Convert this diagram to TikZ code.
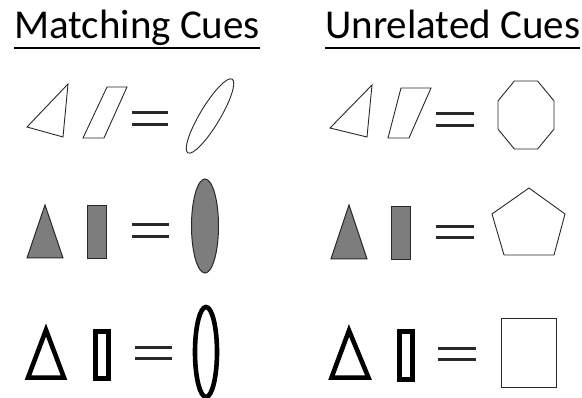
\documentclass[tikz,border=0pt]{standalone}
\usepackage{fontspec}
\setmainfont{Carlito}
\usepackage{tikz}
\usetikzlibrary{calc}
\definecolor{cuegray}{RGB}{125,125,125}
\definecolor{cuedark}{RGB}{40,40,40}

\tikzset{
  heading/.style={inner sep=0pt,anchor=base west,font=\fontsize{41}{45}\selectfont},
  uline/.style={line width=2.5pt},
  thinshape/.style={draw=cuedark,line width=0.9pt,line join=miter},
  grayshape/.style={draw=cuedark,fill=cuegray,line width=1pt},
  boldshape/.style={draw=black,line width=4.6pt,line join=miter},
  eqbar/.style={draw=cuedark,line width=3pt}
}

\begin{document}
\begin{tikzpicture}[x=1pt,y=-1pt]
    \useasboundingbox (0,0) rectangle (582,398);

    % Headings
    \node[heading] (match) at (14,39) {Matching Cues};
    \node[heading] (unrel) at (325,39) {Unrelated Cues};
    \draw[uline] ([yshift=-9pt]match.base west) -- ([yshift=-9pt]match.base east);
    \draw[uline] ([yshift=-9pt]unrel.base west) -- ([yshift=-9pt]unrel.base east);

    % Row 1: outline cues
    \draw[thinshape] (27,127) -- (68,84) -- (63,137) -- cycle;
    \draw[thinshape] (107,87) -- (127,87) -- (104,138) -- (83,138) -- cycle;
    \draw[eqbar] (132,113) -- (168,113);
    \draw[eqbar] (132,125) -- (168,125);
    \draw[thinshape,rotate around={59:(210,116)}] (210,116) ellipse (43 and 10);

    \draw[thinshape] (330,128) -- (372,85) -- (367,137) -- cycle;
    \draw[thinshape] (401,88) -- (431,88) -- (409,138) -- (388,138) -- cycle;
    \draw[eqbar] (436,114) -- (474,114);
    \draw[eqbar] (436,126) -- (474,126);
    \draw[thinshape] (514.4,81) -- (537.6,81) -- (554,100.9) -- (554,129.1)
        -- (537.6,149) -- (514.4,149) -- (498,129.1) -- (498,100.9) -- cycle;

    % Row 2: gray cues
    \draw[grayshape] (45,205) -- (63,258) -- (27,258) -- cycle;
    \draw[grayshape] (87,206) rectangle (106,259);
    \draw[eqbar] (132,225) -- (169,225);
    \draw[eqbar] (132,237) -- (169,237);
    \draw[grayshape] (205,226) ellipse (13.5 and 47);

    \draw[grayshape] (349,205) -- (367,259) -- (331,259) -- cycle;
    \draw[grayshape] (391,207) rectangle (410,260);
    \draw[eqbar] (436,227) -- (474,227);
    \draw[eqbar] (436,238) -- (474,238);
    \draw[thinshape] (529,188) -- (565,214) -- (554,255) -- (504,255) -- (492,214) -- cycle;

    % Row 3: bold cues
    \draw[boldshape] (46,330) -- (64,377.7) -- (28,377.7) -- cycle;
    \draw[boldshape] (95.5,331.5) rectangle (108.5,378.5);
    \draw[eqbar] (135,348) -- (172,348);
    \draw[eqbar] (135,359) -- (172,359);
    \draw[boldshape] (206,352) ellipse (11 and 45);

    \draw[boldshape] (349,330.5) -- (368.5,377.7) -- (331.5,377.7) -- cycle;
    \draw[boldshape] (399.5,331.5) rectangle (412.5,379.5);
    \draw[eqbar] (438,349) -- (476,349);
    \draw[eqbar] (438,360) -- (476,360);
    \draw[thinshape] (501,318) rectangle (556,387);
\end{tikzpicture}
\end{document}
